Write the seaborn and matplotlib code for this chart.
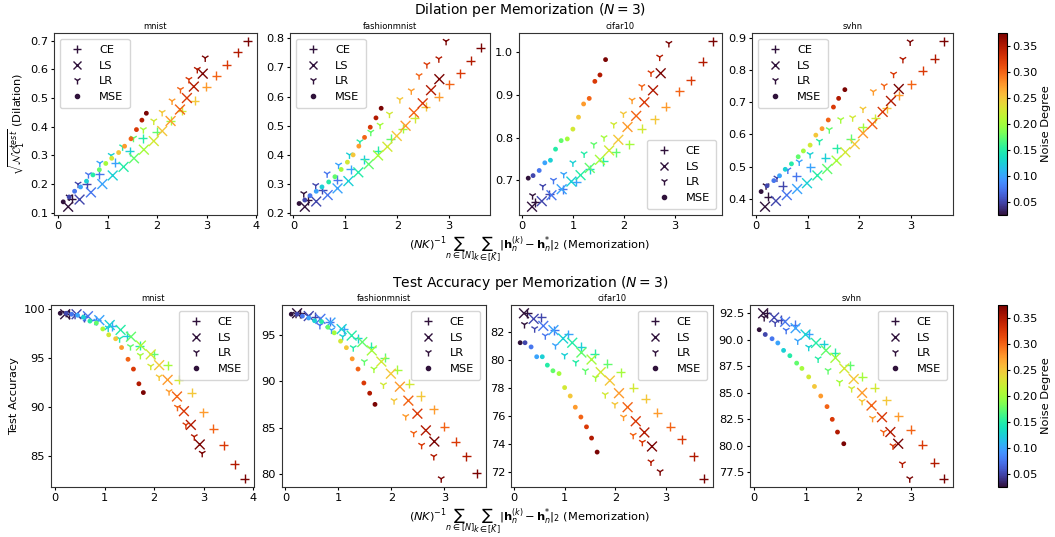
import numpy as np
import pandas as pd
import matplotlib
matplotlib.use("Agg")
import matplotlib.pyplot as plt
import seaborn as sns
from matplotlib.lines import Line2D
from matplotlib.colors import Normalize
from matplotlib.cm import ScalarMappable

# ---------------- data ----------------
datasets = ["mnist", "fashionmnist", "cifar10", "svhn"]
losses = ["CE", "LS", "LR", "MSE"]
noise = [0.025, 0.05, 0.075, 0.1, 0.125, 0.15, 0.175, 0.2, 0.225, 0.25, 0.275, 0.3, 0.325, 0.35, 0.375]

mnist_mem = {
    "CE":  [0.27, 0.58, 0.83, 1.15, 1.44, 1.71, 1.99, 2.27, 2.50, 2.76, 2.99, 3.19, 3.41, 3.63, 3.83],
    "LS":  [0.20, 0.43, 0.66, 0.89, 1.10, 1.32, 1.53, 1.73, 1.93, 2.10, 2.27, 2.46, 2.60, 2.74, 2.92],
    "LR":  [0.22, 0.40, 0.61, 0.84, 1.07, 1.30, 1.52, 1.72, 1.93, 2.10, 2.30, 2.47, 2.64, 2.81, 2.97],
    "MSE": [0.10, 0.22, 0.33, 0.45, 0.57, 0.70, 0.83, 0.96, 1.08, 1.22, 1.34, 1.47, 1.58, 1.69, 1.78],
}
mnist_dil = {
    "CE":  [0.149, 0.200, 0.234, 0.274, 0.315, 0.359, 0.383, 0.420, 0.455, 0.490, 0.540, 0.578, 0.616, 0.660, 0.698],
    "LS":  [0.121, 0.146, 0.171, 0.200, 0.230, 0.260, 0.290, 0.320, 0.350, 0.385, 0.420, 0.460, 0.500, 0.540, 0.585],
    "LR":  [0.155, 0.200, 0.233, 0.273, 0.300, 0.330, 0.360, 0.390, 0.420, 0.450, 0.490, 0.530, 0.565, 0.600, 0.640],
    "MSE": [0.138, 0.155, 0.175, 0.190, 0.210, 0.232, 0.250, 0.272, 0.290, 0.310, 0.332, 0.358, 0.390, 0.423, 0.447],
}
mnist_acc = {
    "CE":  [99.5, 99.2, 98.9, 98.3, 97.3, 96.3, 95.4, 94.3, 92.8, 91.5, 89.5, 87.8, 86.1, 84.2, 82.7],
    "LS":  [99.5, 99.5, 99.3, 98.9, 98.4, 97.9, 97.2, 96.3, 95.4, 94.3, 92.8, 91.1, 89.6, 88.2, 86.2],
    "LR":  [99.6, 99.4, 99.2, 98.8, 98.1, 97.0, 96.2, 95.3, 94.2, 93.1, 91.6, 90.0, 88.2, 87.0, 85.3],
    "MSE": [99.6, 99.6, 99.5, 99.4, 99.2, 98.8, 98.6, 98.0, 97.4, 97.0, 96.1, 94.9, 93.9, 92.4, 91.5],
}

fashion_mem = {
    "CE":  [0.28, 0.56, 0.84, 1.10, 1.36, 1.62, 1.87, 2.11, 2.34, 2.55, 2.80, 3.00, 3.21, 3.41, 3.61],
    "LS":  [0.22, 0.44, 0.66, 0.85, 1.06, 1.25, 1.45, 1.63, 1.81, 1.99, 2.16, 2.32, 2.49, 2.65, 2.81],
    "LR":  [0.20, 0.43, 0.65, 0.87, 1.08, 1.28, 1.49, 1.67, 1.85, 2.05, 2.27, 2.42, 2.57, 2.80, 2.94],
    "MSE": [0.11, 0.22, 0.32, 0.44, 0.55, 0.68, 0.80, 0.92, 1.04, 1.15, 1.26, 1.37, 1.48, 1.59, 1.69],
}
fashion_dil = {
    "CE":  [0.245, 0.280, 0.315, 0.350, 0.385, 0.415, 0.455, 0.490, 0.525, 0.565, 0.600, 0.643, 0.680, 0.723, 0.768],
    "LS":  [0.222, 0.240, 0.262, 0.285, 0.310, 0.340, 0.368, 0.398, 0.428, 0.465, 0.500, 0.545, 0.577, 0.622, 0.660],
    "LR":  [0.267, 0.295, 0.335, 0.365, 0.400, 0.445, 0.478, 0.502, 0.540, 0.590, 0.620, 0.672, 0.710, 0.730, 0.790],
    "MSE": [0.233, 0.245, 0.260, 0.275, 0.290, 0.307, 0.325, 0.350, 0.375, 0.400, 0.430, 0.460, 0.495, 0.527, 0.560],
}
fashion_acc = {
    "CE":  [97.3, 96.9, 96.4, 95.6, 94.6, 93.7, 92.5, 91.2, 89.7, 88.4, 87.0, 85.1, 83.5, 81.9, 80.1],
    "LS":  [97.3, 97.0, 96.7, 96.3, 95.6, 94.9, 94.2, 93.3, 92.1, 90.8, 89.4, 87.9, 86.5, 84.7, 83.5],
    "LR":  [97.2, 97.0, 96.0, 95.5, 94.8, 93.6, 92.1, 91.3, 89.6, 87.9, 86.2, 84.4, 83.1, 81.9, 79.5],
    "MSE": [97.2, 97.2, 97.0, 96.8, 96.5, 96.4, 95.8, 95.2, 94.3, 93.6, 92.4, 91.3, 89.8, 88.7, 87.5],
}

cifar_mem = {
    "CE":  [0.26, 0.54, 0.80, 1.07, 1.33, 1.59, 1.84, 2.10, 2.35, 2.60, 2.82, 3.08, 3.31, 3.54, 3.74],
    "LS":  [0.20, 0.39, 0.58, 0.78, 0.97, 1.15, 1.33, 1.53, 1.71, 1.89, 2.07, 2.24, 2.40, 2.57, 2.72],
    "LR":  [0.21, 0.41, 0.62, 0.82, 1.00, 1.22, 1.41, 1.61, 1.80, 1.99, 2.16, 2.35, 2.53, 2.70, 2.88],
    "MSE": [0.125, 0.22, 0.34, 0.45, 0.56, 0.66, 0.77, 0.89, 1.00, 1.11, 1.21, 1.32, 1.43, 1.53, 1.64],
}
cifar_dil = {
    "CE":  [0.649, 0.667, 0.679, 0.697, 0.726, 0.745, 0.766, 0.785, 0.821, 0.843, 0.873, 0.909, 0.935, 0.978, 1.026],
    "LS":  [0.638, 0.651, 0.665, 0.679, 0.697, 0.712, 0.729, 0.748, 0.770, 0.795, 0.825, 0.851, 0.883, 0.911, 0.951],
    "LR":  [0.664, 0.686, 0.700, 0.714, 0.741, 0.762, 0.784, 0.800, 0.831, 0.856, 0.888, 0.920, 0.952, 0.989, 1.021],
    "MSE": [0.705, 0.711, 0.723, 0.741, 0.747, 0.773, 0.793, 0.797, 0.820, 0.848, 0.879, 0.892, 0.932, 0.947, 0.983],
}
cifar_acc = {
    "CE":  [83.3, 83.0, 82.1, 81.8, 80.9, 80.4, 79.7, 79.1, 78.0, 77.2, 76.2, 75.2, 74.3, 73.1, 71.5],
    "LS":  [83.3, 82.9, 82.4, 82.1, 81.5, 81.2, 80.5, 80.0, 79.1, 78.5, 77.6, 76.6, 75.6, 74.8, 73.8],
    "LR":  [82.5, 82.2, 81.7, 81.0, 80.3, 79.8, 79.2, 78.7, 77.5, 76.8, 75.9, 74.6, 74.1, 72.7, 72.0],
    "MSE": [81.2, 81.2, 80.9, 80.2, 80.2, 79.6, 79.2, 79.0, 78.0, 77.4, 76.6, 75.9, 75.2, 74.4, 73.4],
}

svhn_mem = {
    "CE":  [0.245, 0.52, 0.78, 1.05, 1.34, 1.56, 1.83, 2.07, 2.31, 2.53, 2.76, 3.00, 3.22, 3.45, 3.63],
    "LS":  [0.18, 0.39, 0.60, 0.80, 0.99, 1.19, 1.38, 1.56, 1.73, 1.91, 2.07, 2.25, 2.45, 2.61, 2.76],
    "LR":  [0.20, 0.41, 0.62, 0.84, 1.05, 1.23, 1.42, 1.64, 1.87, 2.07, 2.27, 2.48, 2.66, 2.84, 2.98],
    "MSE": [0.105, 0.22, 0.35, 0.46, 0.57, 0.69, 0.82, 0.92, 1.05, 1.16, 1.28, 1.40, 1.50, 1.60, 1.72],
}
svhn_dil = {
    "CE":  [0.407, 0.441, 0.470, 0.499, 0.528, 0.557, 0.587, 0.622, 0.651, 0.682, 0.722, 0.755, 0.798, 0.835, 0.889],
    "LS":  [0.376, 0.394, 0.412, 0.431, 0.449, 0.473, 0.493, 0.519, 0.545, 0.570, 0.604, 0.632, 0.670, 0.704, 0.741],
    "LR":  [0.441, 0.465, 0.490, 0.515, 0.538, 0.579, 0.615, 0.646, 0.652, 0.679, 0.733, 0.751, 0.787, 0.833, 0.887],
    "MSE": [0.423, 0.441, 0.457, 0.472, 0.492, 0.509, 0.531, 0.549, 0.567, 0.598, 0.618, 0.645, 0.685, 0.712, 0.739],
}
svhn_acc = {
    "CE":  [92.5, 91.9, 91.4, 90.5, 89.6, 88.8, 87.6, 86.5, 85.5, 84.3, 82.8, 81.5, 80.1, 78.4, 76.9],
    "LS":  [92.5, 92.1, 91.7, 91.1, 90.5, 89.7, 89.0, 88.3, 87.3, 86.3, 85.0, 83.8, 82.7, 81.3, 80.2],
    "LR":  [92.1, 91.6, 90.9, 89.9, 89.3, 88.2, 87.1, 86.0, 85.4, 84.2, 82.6, 81.3, 80.0, 78.3, 76.9],
    "MSE": [90.95, 90.5, 90.1, 89.7, 89.0, 88.5, 87.8, 87.3, 86.5, 85.6, 84.7, 83.7, 82.5, 81.3, 80.2],
}

mem_all = [mnist_mem, fashion_mem, cifar_mem, svhn_mem]
dil_all = [mnist_dil, fashion_dil, cifar_dil, svhn_dil]
acc_all = [mnist_acc, fashion_acc, cifar_acc, svhn_acc]

# ---------------- style ----------------
W, H = 1055, 537
fig = plt.figure(figsize=(W / 100, H / 100), dpi=100)
FS = 8.2

def rect(l, t, r, b):
    return [l / W, 1 - b / H, (r - l) / W, (b - t) / H]

markers = {"CE": "+", "LS": "x", "LR": "1", "MSE": "o"}
sizes = {"CE": 42, "LS": 50, "LR": 34, "MSE": 12}
leg_ms = {"CE": 5.5, "LS": 6.0, "LR": 5.5, "MSE": 3.0}
vmin, vmax = 0.025, 0.375
cmap = plt.get_cmap("turbo")
norm = Normalize(vmin, vmax)

top_rects = [(54, 33, 257, 215), (290, 33, 490, 215), (519, 33, 722, 215), (752, 33, 953, 215)]
bot_rects = [(51, 305, 254, 487), (282, 305, 486, 487), (511, 305, 713, 487), (750, 305, 953, 487)]
top_leg = ["upper left", "upper left", "lower right", "upper left"]
bot_leg = ["upper right"] * 4

xlabel = (r"$(NK)^{-1}\sum_{n\in[N]}\sum_{k\in[\bar{K}]}|\mathbf{h}_n^{(k)}-\mathbf{h}_n^{*}|_2$"
          r" (Memorization)")

def draw(ax, mem, val, legloc):
    for loss in losses:
        df = pd.DataFrame({"x": mem[loss], "y": val[loss], "noise": noise})
        kw = dict(linewidth=1.0) if loss != "MSE" else dict(linewidth=0)
        sns.scatterplot(data=df, x="x", y="y", hue="noise", palette="turbo",
                        hue_norm=(vmin, vmax), marker=markers[loss], s=sizes[loss],
                        legend=False, ax=ax, **kw)
    handles = []
    c0 = cmap(0.0)
    for loss in losses:
        handles.append(Line2D([], [], linestyle="none", marker=markers[loss], color=c0,
                              markersize=leg_ms[loss], markeredgewidth=1.0))
    ax.legend(handles, losses, loc=legloc, fontsize=FS, handletextpad=0.9,
              borderpad=0.55, labelspacing=0.5)
    ax.set_xlabel("")
    ax.set_ylabel("")
    ax.tick_params(labelsize=FS, length=2.5, width=0.8, pad=1.8)
    for sp in ax.spines.values():
        sp.set_color("#333333")

for i, ds in enumerate(datasets):
    ax = fig.add_axes(rect(*top_rects[i]))
    draw(ax, mem_all[i], dil_all[i], top_leg[i])
    ax.set_title(ds, fontsize=6, pad=3)
    if i == 0:
        ax.set_ylabel(r"$\sqrt{\mathcal{NC}_1^{test}}$ (Dilation)", fontsize=FS, labelpad=2)
    ax.set_xticks([0, 1, 2, 3, 4] if i == 0 else [0, 1, 2, 3])

    bx = fig.add_axes(rect(*bot_rects[i]))
    draw(bx, mem_all[i], acc_all[i], bot_leg[i])
    bx.set_title(ds, fontsize=6, pad=3)
    if i == 0:
        bx.set_ylabel("Test Accuracy", fontsize=FS, labelpad=3)
    bx.set_xticks([0, 1, 2, 3, 4] if i == 0 else [0, 1, 2, 3])

# colorbars
for (l, t, r, b) in [(998, 33, 1007, 215), (998, 305, 1007, 487)]:
    cax = fig.add_axes(rect(l, t, r, b))
    sm = ScalarMappable(norm=norm, cmap=cmap)
    cb = fig.colorbar(sm, cax=cax)
    cb.set_ticks([0.05, 0.10, 0.15, 0.20, 0.25, 0.30, 0.35])
    cb.ax.tick_params(labelsize=FS, length=2.5, pad=1.5)
    cb.set_label("Noise Degree", fontsize=FS, labelpad=2)

fig.text(530 / W, 1 - 10 / H, r"Dilation per Memorization ($N=3$)", ha="center", va="center", fontsize=10)
fig.text(530 / W, 1 - 283 / H, r"Test Accuracy per Memorization ($N=3$)", ha="center", va="center", fontsize=10)
fig.text(530 / W, 1 - 249 / H, xlabel, ha="center", va="center", fontsize=FS)
fig.text(530 / W, 1 - 521 / H, xlabel, ha="center", va="center", fontsize=FS)

fig.savefig("out.png", dpi=100)
